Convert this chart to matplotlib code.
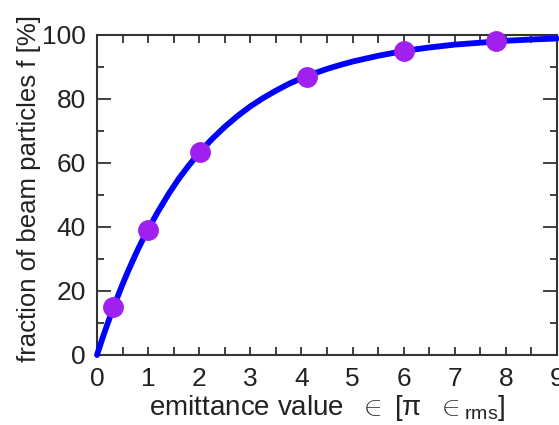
import numpy as np
import matplotlib
matplotlib.use('Agg')
import matplotlib.pyplot as plt
from matplotlib.ticker import MultipleLocator

# curve
curve_x = [0, 0.1, 0.2, 0.3, 0.4, 0.5, 0.6, 0.7, 0.8, 0.9, 1.0, 1.2, 1.4, 1.6, 1.8,
           2.0, 2.25, 2.5, 2.75, 3.0, 3.25, 3.5, 3.75, 4.0, 4.25, 4.5, 4.75, 5.0,
           5.5, 6.0, 6.5, 7.0, 7.5, 8.0, 8.5, 9.0]
curve_y = [0, 4.9, 9.5, 13.9, 18.1, 22.1, 25.9, 29.5, 33, 36.2, 39.3, 45, 50.3, 55.1, 59.3,
           63.2, 67.5, 71.3, 74.7, 77.7, 80.3, 82.6, 84.7, 86.5, 88.0, 89.4, 90.6, 91.7,
           93.5, 95, 96.1, 97, 97.6, 98.2, 98.6, 98.9]

# highlighted points
pts_x = [0.32, 1.0, 2.02, 4.1, 6.0, 7.8]
pts_y = [15, 39, 63.5, 87, 95, 98]

plt.rcParams['font.family'] = ['Liberation Sans', 'DejaVu Sans']
plt.rcParams['mathtext.fontset'] = 'custom'
plt.rcParams['mathtext.rm'] = 'Liberation Sans'
plt.rcParams['mathtext.it'] = 'Liberation Sans'

fig = plt.figure(figsize=(5.59, 4.25), dpi=100)
ax = fig.add_axes([97/559, 70/425, 460/559, 320/425])

ax.plot(curve_x, curve_y, color='#0000ff', lw=4.2, solid_capstyle='round', clip_on=False, zorder=3)
ax.plot(pts_x, pts_y, 'o', color='#a020f0', ms=14, mec='#a020f0', clip_on=False, zorder=4)

ax.set_xlim(0, 9)
ax.set_ylim(0, 100)
ax.xaxis.set_major_locator(MultipleLocator(1))
ax.xaxis.set_minor_locator(MultipleLocator(0.5))
ax.yaxis.set_major_locator(MultipleLocator(20))
ax.yaxis.set_minor_locator(MultipleLocator(10))

ax.tick_params(axis='both', which='both', direction='in', top=True, right=True,
               color='#333333', width=1.3, labelsize=19, labelcolor='#222222')
ax.tick_params(axis='x', which='both', length=6, pad=9)
ax.tick_params(axis='y', which='major', length=10, pad=8)
ax.tick_params(axis='y', which='minor', length=5)

for s in ax.spines.values():
    s.set_color('#333333')
    s.set_linewidth(1.5)

ax.set_xlabel('emittance value  $\\in$ [$\\pi$  $\\in_{\\mathrm{rms}}$]', fontsize=20, color='#222222')
ax.set_ylabel('fraction of beam particles f [%]', fontsize=18.5, color='#222222')
ax.yaxis.set_label_coords(-0.122, 0.52)
ax.xaxis.set_label_coords(0.5, -0.12)

fig.savefig('out.png', dpi=100)
